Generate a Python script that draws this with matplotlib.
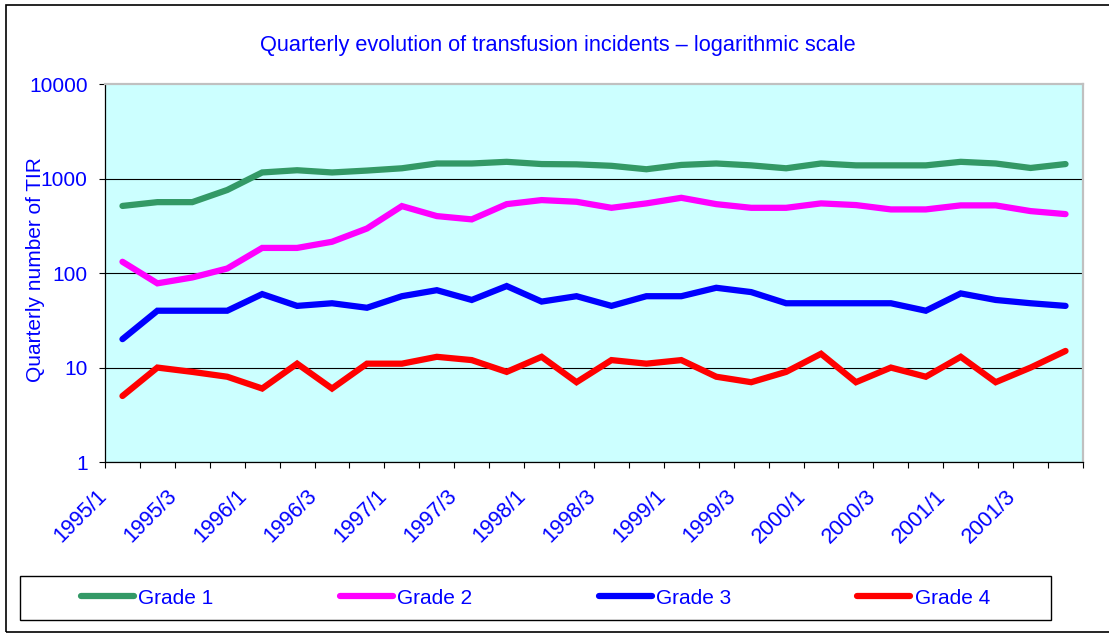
import matplotlib
matplotlib.use("Agg")
import matplotlib.pyplot as plt
from matplotlib.patches import Rectangle
from matplotlib.ticker import FuncFormatter, NullLocator
from matplotlib.transforms import ScaledTranslation

plt.rcParams["font.family"] = ["Liberation Sans", "DejaVu Sans"]

quarters = [
    "1995/1", "1995/2", "1995/3", "1995/4", "1996/1", "1996/2", "1996/3", "1996/4",
    "1997/1", "1997/2", "1997/3", "1997/4", "1998/1", "1998/2", "1998/3", "1998/4",
    "1999/1", "1999/2", "1999/3", "1999/4", "2000/1", "2000/2", "2000/3", "2000/4",
    "2001/1", "2001/2", "2001/3", "2001/4",
]
grade1 = [515, 565, 565, 760, 1165, 1230, 1165, 1220, 1290, 1450, 1450, 1510, 1430, 1420,
          1370, 1260, 1400, 1450, 1385, 1290, 1450, 1385, 1385, 1385, 1510, 1450, 1300, 1430]
grade2 = [132, 78, 90, 112, 185, 185, 215, 297, 513, 402, 371, 538, 594, 570,
          492, 548, 628, 538, 492, 492, 548, 526, 473, 473, 522, 522, 454, 422]
grade3 = [20, 40, 40, 40, 60, 45, 48, 43, 57, 66, 52, 73, 50, 57,
          45, 57, 57, 70, 63, 48, 48, 48, 48, 40, 61, 52, 48, 45]
grade4 = [5, 10, 9, 8, 6, 11, 6, 11, 11, 13, 12, 9, 13, 7,
          12, 11, 12, 8, 7, 9, 14, 7, 10, 8, 13, 7, 10, 15]
series_names = ["Grade 1", "Grade 2", "Grade 3", "Grade 4"]
series_colors = ["#339966", "#FF00FF", "#0000FF", "#FF0000"]
yticks = [1, 10, 100, 1000, 10000]

TXT = "#0000FF"
W, H = 1109, 635
fig = plt.figure(figsize=(W / 100, H / 100), dpi=100)

# plot area in pixel terms of the reference
ax = fig.add_axes([105 / W, 1 - 462 / H, 978 / W, 377.7 / H])
ax.set_facecolor("#CCFFFF")

xs = range(len(quarters))
handles = []
for vals, name, col in zip([grade1, grade2, grade3, grade4], series_names, series_colors):
    ln, = ax.plot(xs, vals, color=col, lw=4.5, label=name,
                  solid_capstyle="round", solid_joinstyle="miter", zorder=3)
    handles.append(ln)

ax.set_yscale("log")
ax.set_ylim(1, 10000)
ax.set_xlim(-0.5, len(quarters) - 0.5)

# y axis
ax.set_yticks(yticks)
ax.yaxis.set_major_formatter(FuncFormatter(lambda v, _: f"{v:g}"))
ax.yaxis.set_minor_locator(NullLocator())
ax.tick_params(axis="y", length=4.5, width=0.8, pad=8, labelsize=15, labelcolor=TXT)
ax.grid(axis="y", which="major", color="black", lw=0.8)
ax.get_ygridlines()[-1].set_visible(False)
ax.set_axisbelow(True)

# x axis: tick marks at category boundaries, labels on every other quarter
ax.set_xticks([i - 0.5 for i in range(len(quarters) + 1)])
ax.set_xticklabels([])
ax.tick_params(axis="x", which="major", length=4.5, width=0.8)
ax.set_xticks(list(xs)[::2], labels=quarters[::2], minor=True)
ax.tick_params(axis="x", which="minor", length=0, pad=17, labelsize=15.5, labelcolor=TXT)
shift = ScaledTranslation(-11 / 100, 0, fig.dpi_scale_trans)
for lab in ax.get_xticklabels(minor=True):
    lab.set_rotation(45)
    lab.set_ha("right")
    lab.set_transform(lab.get_transform() + shift)

for side in ("top", "right"):
    ax.spines[side].set_color("#C0C0C0")
    ax.spines[side].set_linewidth(1.6)
for side in ("left", "bottom"):
    ax.spines[side].set_color("black")
    ax.spines[side].set_linewidth(0.9)

fig.text(36 / W, 1 - 270 / H, "Quarterly number of TIR", rotation=90,
         ha="center", va="center", fontsize=15, color=TXT)
fig.text(558 / W, 1 - 46 / H,
         "Quarterly evolution of transfusion incidents \u2013 logarithmic scale",
         ha="center", va="center", fontsize=15.7, color=TXT)

fig.legend(handles, series_names, loc="center", bbox_to_anchor=(535.5 / W, 1 - 598 / H),
           ncol=4, frameon=False, fontsize=15, handlelength=2.55, handletextpad=0.2,
           columnspacing=6.06, labelcolor=TXT)
fig.add_artist(Rectangle((20 / W, 1 - 620 / H), 1031 / W, 44 / H, transform=fig.transFigure,
                         fill=False, ec="black", lw=1.0))

# outer chart border (right side runs past the image edge)
fig.add_artist(Rectangle((6 / W, 1 - 632 / H), 1.2, 627 / H, transform=fig.transFigure,
                         fill=False, ec="black", lw=1.2))

fig.savefig("out.png", dpi=100)
